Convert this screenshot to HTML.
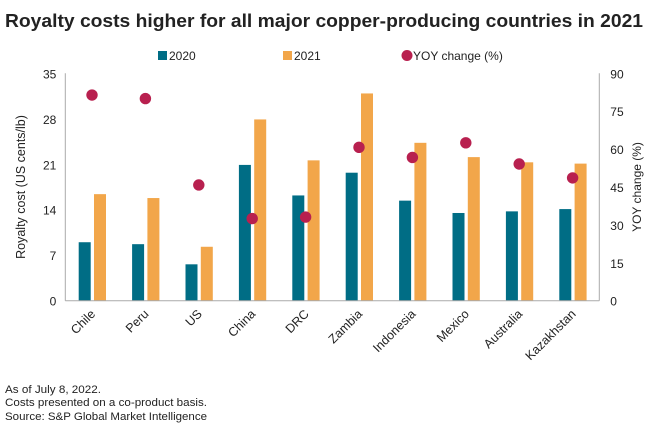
<!DOCTYPE html>
<html><head><meta charset="utf-8"><style>
body{margin:0;background:#fff;font-family:"Liberation Sans",sans-serif;}
svg text{font-family:"Liberation Sans",sans-serif;fill:#222;}
</style></head><body>
<svg width="660" height="435" viewBox="0 0 660 435">
<text x="5" y="27" font-size="18.5" font-weight="bold" textLength="638" lengthAdjust="spacingAndGlyphs">Royalty costs higher for all major copper-producing countries in 2021</text>
<g id="legend">
<rect x="158" y="51" width="9" height="9" fill="#006d85"/>
<text x="169" y="60" font-size="12">2020</text>
<rect x="283" y="51" width="9" height="9" fill="#f2a64a"/>
<text x="294" y="60" font-size="12">2021</text>
<circle cx="407" cy="55.5" r="5.5" fill="#b8204f"/>
<text x="413" y="60" font-size="12">YOY change (%)</text>
</g>
<g id="plot"></g>
<text transform="translate(25,187) rotate(-90)" text-anchor="middle" font-size="12.5">Royalty cost (US cents/lb)</text>
<text transform="translate(641,187) rotate(-90)" text-anchor="middle" font-size="12">YOY change (%)</text>
<text x="5" y="393" font-size="11" textLength="96" lengthAdjust="spacingAndGlyphs">As of July 8, 2022.</text>
<text x="5" y="406" font-size="11" textLength="202" lengthAdjust="spacingAndGlyphs">Costs presented on a co-product basis.</text>
<text x="5" y="420" font-size="11" textLength="202" lengthAdjust="spacingAndGlyphs">Source: S&amp;P Global Market Intelligence</text>
</svg>
<script>
const categories=["Chile","Peru","US","China","DRC","Zambia","Indonesia","Mexico","Australia","Kazakhstan"];
const values2020=[9.0,8.7,5.6,20.9,16.2,19.7,15.4,13.5,13.75,14.1];
const values2021=[16.4,15.8,8.3,27.9,21.6,31.9,24.3,22.1,21.3,21.1];
const yoyChange=[81.4,80,45.8,32.5,33.1,60.7,56.7,62.5,54.1,48.6];
const leftTicks=[0,7,14,21,28,35];
const rightTicks=[0,15,30,45,60,75,90];
const NS="http://www.w3.org/2000/svg";
const g=document.getElementById('plot');
const x0=65.3,x1=599.3,yB=300.7,yT=73.3;
const band=(x1-x0)/categories.length;
const yL=v=>yB-(v/35)*(yB-yT);
const yR=v=>yB-(v/90)*(yB-yT);
const xc=i=>x0+band*(i+0.5);
function mk(t,a){const e=document.createElementNS(NS,t);for(const k in a)e.setAttribute(k,a[k]);g.appendChild(e);return e;}
let e;
leftTicks.forEach(v=>{e=mk('text',{x:x0-9,y:yL(v)+5,'text-anchor':'end','font-size':12});e.textContent=v;

});
rightTicks.forEach(v=>{e=mk('text',{x:x1+11,y:yR(v)+5,'font-size':12});e.textContent=v;

});
categories.forEach((c,i)=>{
 const cx=xc(i);
 e=mk('rect',{x:cx-13.3,y:yL(values2020[i]),width:12,height:yB-yL(values2020[i]),fill:'#006d85'});
 
 
 e=mk('rect',{x:cx+2,y:yL(values2021[i]),width:12,height:yB-yL(values2021[i]),fill:'#f2a64a'});
 
 
 e=mk('text',{transform:`translate(${cx+4},${yB+14}) rotate(-45)`,'text-anchor':'end','font-size':12.5});
 e.textContent=c;
 
 
});
categories.forEach((c,i)=>{
 e=mk('circle',{cx:xc(i),cy:yR(yoyChange[i]),r:5.7,fill:'#b8204f'});
 
 
});
e=mk('line',{x1:x0,y1:yT,x2:x0,y2:yB,stroke:'#aaa','stroke-width':1});


e=mk('line',{x1:x1,y1:yT,x2:x1,y2:yB,stroke:'#aaa','stroke-width':1});


e=mk('line',{x1:x0,y1:yB,x2:x1,y2:yB,stroke:'#aaa','stroke-width':1});


</script>
</body></html>
